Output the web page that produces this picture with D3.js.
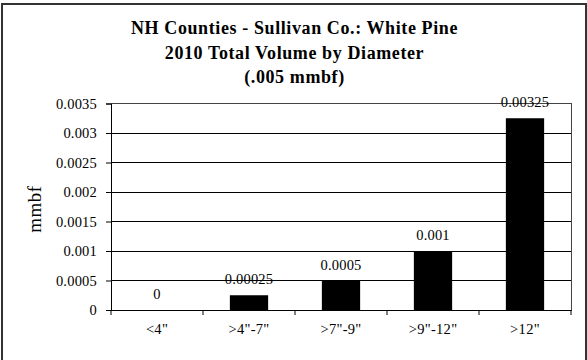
<!DOCTYPE html>
<html><head><meta charset="utf-8">
<script src="https://cdn.jsdelivr.net/npm/d3@7"></script>
<style>body{margin:0;background:#fff}svg{display:block}</style>
</head><body>
<svg id="c" width="587" height="360" style="font-family:'Liberation Serif',serif"></svg>
<script>
const categories = ['<4"', '>4"-7"', '>7"-9"', '>9"-12"', '>12"'];
const values = [0, 0.00025, 0.0005, 0.001, 0.00325];
const valueLabels = ["0", "0.00025", "0.0005", "0.001", "0.00325"];
const yTicks = [0, 0.0005, 0.001, 0.0015, 0.002, 0.0025, 0.003, 0.0035];
const titleLines = ["NH Counties - Sullivan Co.: White Pine", "2010 Total Volume by Diameter", "(.005 mmbf)"];

const svg = d3.select("#c");
svg.append("rect").attr("x",2).attr("y",4).attr("width",584).attr("height",360)
  .attr("fill","#fff").attr("stroke","#333").attr("stroke-width",2);

const L=111, R=571, T=103.5, B=310;
const x = d3.scaleBand().domain(categories).range([L,R]).paddingInner(0.584).paddingOuter(0.292);
const y = d3.scaleLinear().domain([0,0.0035]).range([B,T]);

// gridlines
svg.append("g").selectAll("line").data(yTicks.slice(1)).join("line")
  .attr("x1",L).attr("x2",R).attr("y1",d=>y(d)).attr("y2",d=>y(d))
  .attr("stroke","#000").attr("stroke-width",1).attr("shape-rendering","crispEdges");
// plot border
svg.append("rect").attr("x",L).attr("y",T).attr("width",R-L).attr("height",B-T)
  .attr("fill","none").attr("stroke","#444").attr("stroke-width",1).attr("shape-rendering","crispEdges");

// bars
svg.append("g").selectAll("rect").data(values).join("rect")
  .attr("x",(d,i)=>x(categories[i])).attr("width",x.bandwidth())
  .attr("y",d=>y(d)).attr("height",d=>B-y(d)).attr("fill","#000");

// y axis
const ya = svg.append("g").attr("transform",`translate(${L},0)`)
  .call(d3.axisLeft(y).tickValues(yTicks).tickSize(5).tickPadding(9).tickFormat(d=>d===0?"0":String(+d.toFixed(4))));
ya.attr("font-family",null).attr("font-size",14.5).attr("letter-spacing","0.2px");
ya.select(".domain").attr("stroke","#000");
ya.selectAll("text").attr("fill","#000");
ya.selectAll("line").attr("stroke","#000");

// x axis
const xa = svg.append("g").attr("transform",`translate(0,${B})`)
  .call(d3.axisBottom(x).tickSize(0).tickPadding(14));
xa.attr("font-family",null).attr("font-size",14.5).attr("letter-spacing","0.3px");
xa.select(".domain").attr("stroke","#000");
xa.selectAll("text").attr("fill","#000").attr("y",14).attr("dy","0.71em");
const bounds = d3.range(categories.length+1).map(i=>L+i*(R-L)/categories.length);
xa.selectAll(".sep").data(bounds).join("line").attr("class","sep")
  .attr("x1",d=>d).attr("x2",d=>d).attr("y1",0).attr("y2",5).attr("stroke","#000");

// value labels
svg.append("g").selectAll("text").data(values).join("text")
  .attr("x",(d,i)=>x(categories[i])+x.bandwidth()/2).attr("y",d=>y(d)-11)
  .attr("text-anchor","middle").attr("font-size",14.5).attr("letter-spacing","0.2px")
  .text((d,i)=>valueLabels[i]);

// y title
svg.append("text").attr("transform","translate(41,209) rotate(-90)")
  .attr("text-anchor","middle").attr("font-size",19).attr("letter-spacing","0.5px").text("mmbf");

// title
svg.append("g").selectAll("text").data(titleLines).join("text")
  .attr("x",294.5).attr("y",(d,i)=>34+i*24.5).attr("text-anchor","middle")
  .attr("font-weight","bold").attr("font-size",18).attr("letter-spacing","0.6px").text(d=>d);
</script>
</body></html>
